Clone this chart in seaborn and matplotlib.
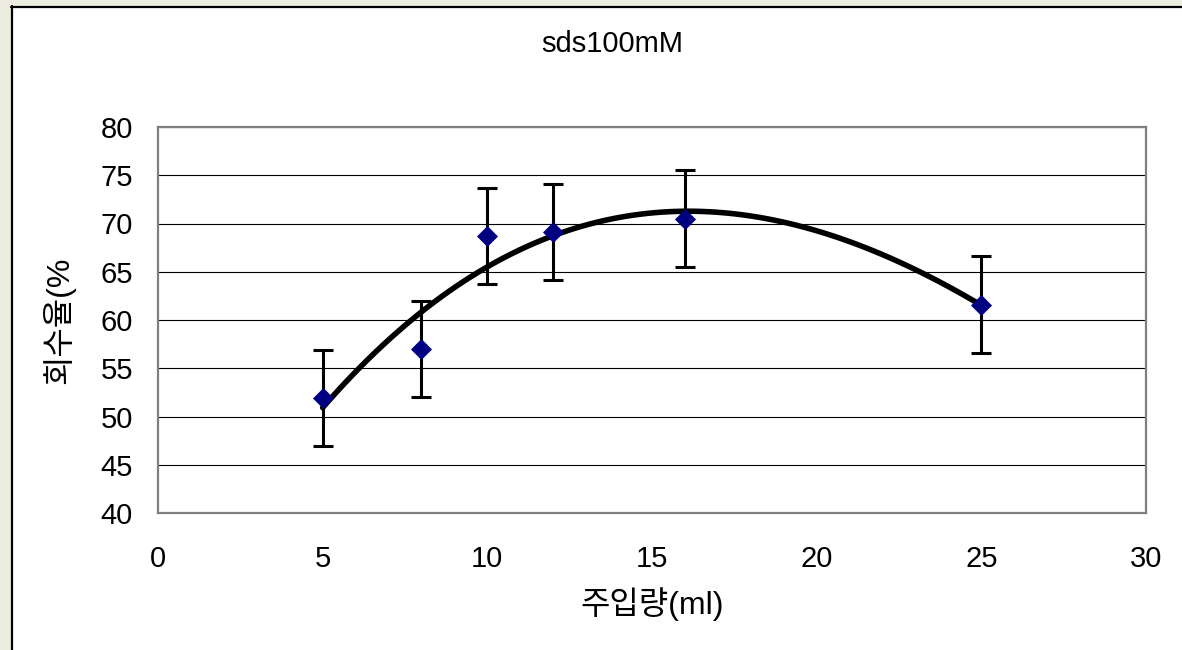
import numpy as np
import pandas as pd
import matplotlib
matplotlib.use("Agg")
import matplotlib.pyplot as plt
from matplotlib.patches import Rectangle
from matplotlib.lines import Line2D
import seaborn as sns

# Injection volume (ml) vs. recovery (%) with +/- error
volume = [5, 8, 10, 12, 16, 25]
recovery = [51.9, 57.0, 68.7, 69.1, 70.5, 61.6]
error = [5, 5, 5, 5, 5, 5]

title = "sds100mM"
x_label = "주입량(ml)"
y_label = "회수율(%"
x_ticks = [0, 5, 10, 15, 20, 25, 30]
y_ticks = [40, 45, 50, 55, 60, 65, 70, 75, 80]

df = pd.DataFrame({"volume": volume, "recovery": recovery, "error": error})

sns.set_style("white")
plt.rcParams["font.family"] = ["Liberation Sans", "Noto Sans CJK KR", "DejaVu Sans"]
plt.rcParams["text.color"] = "black"

W, H = 1182, 650
fig = plt.figure(figsize=(W / 100, H / 100), dpi=100)
fig.patch.set_facecolor("white")

# frame around the chart area
fig.patches.append(Rectangle((0, 1 - 6 / H), 1, 6 / H, transform=fig.transFigure,
                             facecolor="#ECECE0", edgecolor="none", zorder=0))
fig.patches.append(Rectangle((0, 0), 11 / W, 1, transform=fig.transFigure,
                             facecolor="#ECECE0", edgecolor="none", zorder=0))
fig.lines.append(Line2D([11 / W, 1], [1 - 6.5 / H, 1 - 6.5 / H], transform=fig.transFigure,
                        color="black", lw=1.6))
fig.lines.append(Line2D([11.5 / W, 11.5 / W], [0, 1 - 6 / H], transform=fig.transFigure,
                        color="black", lw=1.6))

left, right, top, bottom = 158, 1146, 127, 513
ax = fig.add_axes([left / W, 1 - bottom / H, (right - left) / W, (bottom - top) / H])
ax.set_facecolor("white")

ax.set_xlim(0, 30)
ax.set_ylim(40, 80)
ax.set_xticks(x_ticks)
ax.set_yticks(y_ticks)
ax.yaxis.grid(True, color="black", lw=0.8)
ax.xaxis.grid(False)
ax.set_axisbelow(True)

for s in ax.spines.values():
    s.set_color("#808080")
    s.set_linewidth(1.6)

ax.tick_params(axis="both", length=0, labelsize=21, labelcolor="black")
ax.tick_params(axis="x", pad=23)
ax.tick_params(axis="y", pad=18)

# polynomial trendline
sns.regplot(data=df, x="volume", y="recovery", order=3, ci=None, scatter=False,
            truncate=True, ax=ax, line_kws={"color": "black", "lw": 4.0, "zorder": 3})

ax.errorbar(df["volume"], df["recovery"], yerr=df["error"], fmt="none",
            ecolor="black", elinewidth=2.2, capsize=7.5, capthick=2.2, zorder=4)
sns.scatterplot(data=df, x="volume", y="recovery", marker="D", s=115,
                color="#000080", edgecolor="#000080", linewidth=0, ax=ax, zorder=5)

ax.set_xlabel("")
ax.set_ylabel("")
fig.text((left + right) / 2 / W, 1 - 604 / H, x_label, ha="center", va="center",
         fontsize=23, color="black")
fig.text(59 / W, 1 - 320 / H, y_label, ha="center", va="center", fontsize=23,
         rotation=90, color="black")
fig.text(612 / W, 1 - 44 / H, title, ha="center", va="center", fontsize=21, color="black")

fig.savefig("out.png", dpi=100)
